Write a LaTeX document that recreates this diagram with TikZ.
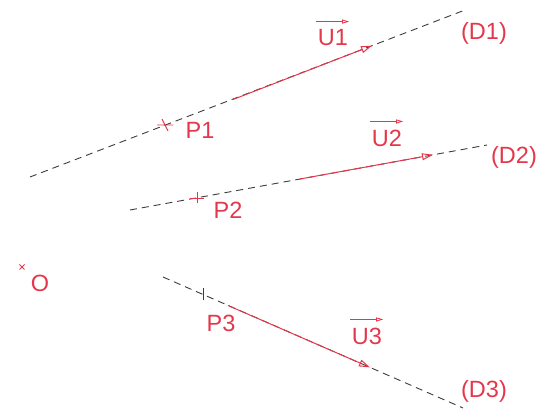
\documentclass[tikz,border=0pt]{standalone}
\usepackage{fontspec}
\setmainfont{Liberation Sans}
\usetikzlibrary{arrows.meta,calc}
\definecolor{cadred}{RGB}{228,55,75}
\definecolor{cadgray}{RGB}{60,60,60}
\tikzset{
  dline/.style={draw=cadgray, dash pattern=on 7pt off 5pt, line width=0.9pt},
  vec/.style={draw=cadred, line width=1pt, -{Triangle[open,length=11pt,width=7pt]}},
  lbl/.style={text=cadred, font=\fontsize{23.5}{25}\selectfont, inner sep=0pt},
  ovarrow/.style={draw=cadred, line width=0.8pt, -{Triangle[open,length=7pt,width=4pt]}}
}
\begin{document}
\begin{tikzpicture}[x=1pt,y=-1pt]
\useasboundingbox (0,0) rectangle (539,414);
% line ends
\coordinate (a1) at (30,177); \coordinate (b1) at (465,10);
\coordinate (a2) at (130,210); \coordinate (b2) at (487,145);
\coordinate (a3) at (163,277); \coordinate (b3) at (463,408);
\draw[dline] (a1) -- (b1);
\draw[dline] (a2) -- (b2);
\draw[dline] (a3) -- (b3);
% points
\coordinate (p1) at (165,125);
\coordinate (p2) at (197,198);
\coordinate (p3) at (203,294.5);
\coordinate (o) at (22,267);
\draw[cadred, line width=0.9pt] ($(p1)+(-8,0)$) -- ($(p1)+(8,0)$) ($(p1)+(-3,-6)$) -- ($(p1)+(3,6)$);
\draw[cadred, line width=0.9pt] ($(p2)+(-7,0)$) -- ($(p2)+(7,0)$) ($(p2)+(0,-6)$) -- ($(p2)+(0,5)$);
\draw[cadgray, line width=0.9pt] ($(p3)+(0,-6)$) -- ($(p3)+(0,6)$);
\draw[cadred, line width=0.9pt] ($(o)+(-2.5,-2.5)$) -- ($(o)+(2.5,2.5)$) ($(o)+(-2.5,2.5)$) -- ($(o)+(2.5,-2.5)$);
% vectors
\coordinate (s1) at (233,99.5); \coordinate (e1) at (372,45.7);
\coordinate (s2) at (300,179); \coordinate (e2) at (433,154.8);
\coordinate (s3) at (228,305.5); \coordinate (e3) at (370,367.4);
\draw[vec] (s1) -- (e1);
\draw[vec] (s2) -- (e2);
\draw[vec] (s3) -- (e3);
% labels
\node[lbl] (lp1) at (200,130) {P1};
\node[lbl] (lp2) at (228,210) {P2};
\node[lbl] (lp3) at (221,323) {P3};
\node[lbl] (lo) at (40,283) {O};
\node[lbl] (lu1) at (333,38) {U1};
\node[lbl] (lu2) at (387,138) {U2};
\node[lbl] (lu3) at (367,336) {U3};
\node[lbl] (ld1) at (484,33) {(D1)};
\node[lbl] (ld2) at (514,157) {(D2)};
\node[lbl] (ld3) at (484,391) {(D3)};
\foreach \n in {lu1,lu2,lu3}{
  \draw[ovarrow] ($(\n.north west)+(-2,-8)$) -- ($(\n.north east)+(1,-8)$);
}
\end{tikzpicture}
\end{document}
